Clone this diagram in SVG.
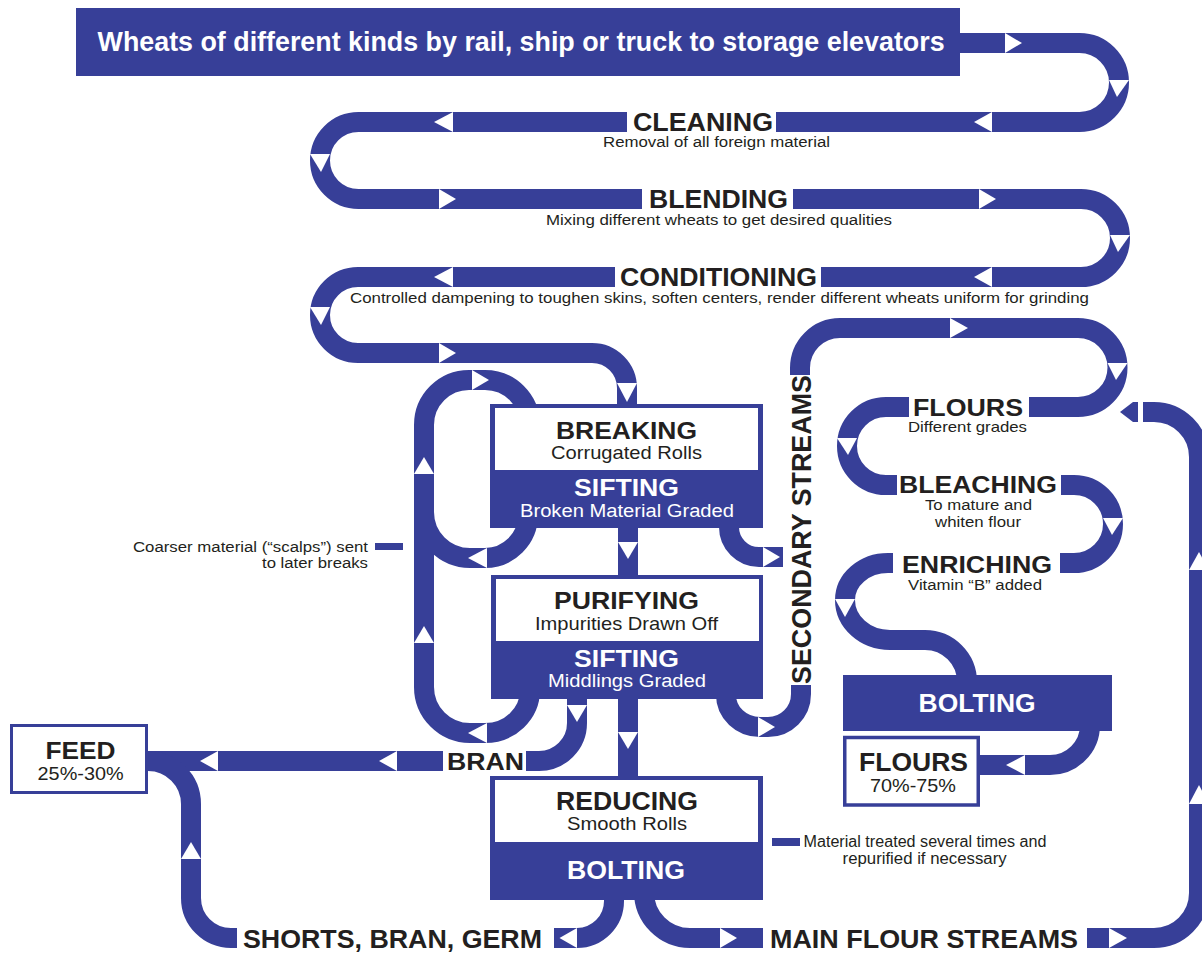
<svg xmlns="http://www.w3.org/2000/svg" width="1202" height="953" viewBox="0 0 1202 953">
<style>
.band{fill:none;stroke:#373f98;stroke-width:20}
.blue{fill:#373f98}
.aw{fill:#fff}
.t{font-family:"Liberation Sans",Arial,Helvetica,sans-serif;fill:#231f20}
.b{font-weight:bold}
.w{fill:#fff}
.box{fill:#fff;stroke:#373f98}
</style>
<rect width="1202" height="953" fill="#fff"/>
<g id="connectors">
<path class="band" d="M955,43 L1079.5,43 A39.5,39.5 0 0 1 1079.5,122 L776,122"/>
<path class="band" d="M627,122 L358.5,122 A38.5,38.5 0 0 0 358.5,199 L642,199"/>
<path class="band" d="M793,199 L1081,199 A39,39 0 0 1 1081,277 L821,277"/>
<path class="band" d="M615,277 L358,277 A38,38 0 0 0 358,353 L592,353 A35,35 0 0 1 627,388 L627,408"/>
<path class="band" d="M528,515 A43,43 0 0 1 485,558 L470,558 A46,46 0 0 1 424,512 L424,425 A45,45 0 0 1 469,380 L485,380 A45,45 0 0 1 530,425 L530,440"/>
<path class="band" d="M530,690 A45,43 0 0 1 485,733 L470,733 A46,46 0 0 1 424,687 L424,512"/>
<path class="band" d="M628,520 L628,580"/>
<path class="band" d="M628,690 L628,782"/>
<path class="band" d="M577,695 L577,723 A38,38 0 0 1 539,761 L526,761"/>
<path class="band" d="M443,761 L145,761"/>
<path class="band" d="M614,895 L614,901 A37,37 0 0 1 577,938 L554,938"/>
<path class="band" d="M237,938 L231,938 A40,40 0 0 1 191,898 L191,804 A43,43 0 0 0 148,761"/>
<path class="band" d="M644,890 L644,892 A46,46 0 0 0 690,938 L763,938"/>
<path class="band" d="M1087,938 L1154,938 A45,45 0 0 0 1199,893 L1199,457 A45,45 0 0 0 1154,412 L1143,412"/>
<path class="band" d="M729,520 L729,527 A30,30 0 0 0 759,557 L783,557"/>
<path class="band" d="M726,690 L726,695 A34,32 0 0 0 760,727 L768,727 A33,33 0 0 0 801,694 L801,685"/>
<path class="band" d="M800,375 L800,368 A40,40 0 0 1 840,328 L1078,328 A39.5,39.5 0 0 1 1078,407 L1029,407"/>
<path class="band" d="M909,407 L886,407 A39,39 0 0 0 886,485 L897,485"/>
<path class="band" d="M1061,485 L1074,485 A39,39 0 0 1 1074,563 L1060,563"/>
<path class="band" d="M893,563 L888,563 A43,37 0 0 0 845,600 A45,40 0 0 0 890,640 L925,640 A42,42 0 0 1 967,682"/>
<path class="band" d="M1090,720 L1090,725 A40,40 0 0 1 1050,765 L978,765"/>
<polygon class="blue" points="1120,412 1133,402 1138,402 1138,422 1133,422"/>
<g id="arrowheads">
<polygon class="aw" points="1005,33 1022,43 1005,53"/>
<polygon class="aw" points="1109,80 1117,97 1129,80"/>
<polygon class="aw" points="992,112 974,122 992,132"/>
<polygon class="aw" points="453,112 434,122 453,132"/>
<polygon class="aw" points="310,154 321,172 330,154"/>
<polygon class="aw" points="439,189 456,199 439,209"/>
<polygon class="aw" points="979,189 996,199 979,209"/>
<polygon class="aw" points="1110,235 1118,252 1130,235"/>
<polygon class="aw" points="992,267 974,277 992,287"/>
<polygon class="aw" points="453,267 434,277 453,287"/>
<polygon class="aw" points="310,307 321,325 330,307"/>
<polygon class="aw" points="439,343 456,353 439,363"/>
<polygon class="aw" points="617,383 627,402 637,383"/>
<polygon class="aw" points="472,370 489,380 472,390"/>
<polygon class="aw" points="414,474 424,457 434,474"/>
<polygon class="aw" points="487,548 468,558 487,568"/>
<polygon class="aw" points="414,643 424,626 434,643"/>
<polygon class="aw" points="487,723 468,733 487,743"/>
<polygon class="aw" points="618,542 628,559 638,542"/>
<polygon class="aw" points="618,732 628,749 638,732"/>
<polygon class="aw" points="567,705 577,722 587,705"/>
<polygon class="aw" points="397,751 379,761 397,771"/>
<polygon class="aw" points="218,751 200,761 218,771"/>
<polygon class="aw" points="577,928 559.5,938 577,948"/>
<polygon class="aw" points="181,859 191,842 201,859"/>
<polygon class="aw" points="720,928 737,938 720,948"/>
<polygon class="aw" points="1109,928 1127,938 1109,948"/>
<polygon class="aw" points="1189,570 1199,552 1209,570"/>
<polygon class="aw" points="1189,804 1199,785 1209,804"/>
<polygon class="aw" points="763,547 780,557 763,567"/>
<polygon class="aw" points="758,717 775,727 758,737"/>
<polygon class="aw" points="950,318 968,328 950,338"/>
<polygon class="aw" points="1107.5,363 1116,380 1127.5,363"/>
<polygon class="aw" points="837,438 848,455 857,438"/>
<polygon class="aw" points="1103,518 1112,535 1123,518"/>
<polygon class="aw" points="835,599 845,617 855,599"/>
<polygon class="aw" points="1025,755 1006,765 1025,775"/>
</g>
</g>
<g id="node-source">
<rect class="blue" x="76" y="8" width="884" height="68"/>
<text class="t b w" x="97.6" y="51" font-size="27" textLength="847" lengthAdjust="spacingAndGlyphs">Wheats of different kinds by rail, ship or truck to storage elevators</text>
</g>
<g id="node-cleaning">
<text class="t b" x="633" y="130.5" font-size="25.5" textLength="140" lengthAdjust="spacingAndGlyphs">CLEANING</text>
<text class="t" x="603" y="147" font-size="15.5" textLength="227" lengthAdjust="spacingAndGlyphs">Removal of all foreign material</text>
</g>
<g id="node-blending">
<text class="t b" x="649" y="207.5" font-size="25.5" textLength="139" lengthAdjust="spacingAndGlyphs">BLENDING</text>
<text class="t" x="546" y="225" font-size="15.5" textLength="346" lengthAdjust="spacingAndGlyphs">Mixing different wheats to get desired qualities</text>
</g>
<g id="node-conditioning">
<text class="t b" x="620" y="286" font-size="25.5" textLength="197" lengthAdjust="spacingAndGlyphs">CONDITIONING</text>
<text class="t" x="350" y="303" font-size="15.5" textLength="739" lengthAdjust="spacingAndGlyphs">Controlled dampening to toughen skins, soften centers, render different wheats uniform for grinding</text>
</g>
<g id="node-breaking">
<rect class="blue" x="490" y="404" width="273" height="124"/>
<rect fill="#fff" x="495" y="408" width="263" height="62"/>
<text class="t b" x="556" y="439" font-size="24.5" textLength="141" lengthAdjust="spacingAndGlyphs">BREAKING</text>
<text class="t" x="551" y="459" font-size="17.7" textLength="151" lengthAdjust="spacingAndGlyphs">Corrugated Rolls</text>
<text class="t b w" x="574" y="496" font-size="24.7" textLength="105" lengthAdjust="spacingAndGlyphs">SIFTING</text>
<text class="t w" x="520" y="517" font-size="18" textLength="214" lengthAdjust="spacingAndGlyphs">Broken Material Graded</text>
</g>
<g id="node-purifying">
<rect class="blue" x="491" y="575" width="272" height="124"/>
<rect fill="#fff" x="496" y="579" width="263" height="62"/>
<text class="t b" x="554" y="609" font-size="24.5" textLength="145" lengthAdjust="spacingAndGlyphs">PURIFYING</text>
<text class="t" x="535" y="630" font-size="17.7" textLength="183" lengthAdjust="spacingAndGlyphs">Impurities Drawn Off</text>
<text class="t b w" x="574" y="667" font-size="24.7" textLength="105" lengthAdjust="spacingAndGlyphs">SIFTING</text>
<text class="t w" x="548" y="687" font-size="18" textLength="158" lengthAdjust="spacingAndGlyphs">Middlings Graded</text>
</g>
<g id="node-reducing">
<rect class="blue" x="490" y="776" width="273" height="124"/>
<rect fill="#fff" x="495" y="780" width="263" height="62"/>
<text class="t b" x="556" y="810" font-size="25.5" textLength="142" lengthAdjust="spacingAndGlyphs">REDUCING</text>
<text class="t" x="567" y="830" font-size="17.7" textLength="120" lengthAdjust="spacingAndGlyphs">Smooth Rolls</text>
<text class="t b w" x="567" y="879" font-size="25.5" textLength="118" lengthAdjust="spacingAndGlyphs">BOLTING</text>
</g>
<g id="legend-scalps">
<text class="t" x="133" y="552" font-size="15.2" textLength="235" lengthAdjust="spacingAndGlyphs">Coarser material (“scalps”) sent</text>
<text class="t" x="262" y="567.5" font-size="15.2" textLength="106" lengthAdjust="spacingAndGlyphs">to later breaks</text>
<rect class="blue" x="375" y="543" width="28" height="7"/>
</g>
<g id="node-feed">
<rect class="box" stroke-width="3" x="11.5" y="725.5" width="135" height="67"/>
<text class="t b" x="45.5" y="759" font-size="24" textLength="70" lengthAdjust="spacingAndGlyphs">FEED</text>
<text class="t" x="37.6" y="780" font-size="19" textLength="86" lengthAdjust="spacingAndGlyphs">25%-30%</text>
</g>
<g id="node-bran">
<text class="t b" x="447" y="770" font-size="24" textLength="77" lengthAdjust="spacingAndGlyphs">BRAN</text>
</g>
<g id="node-shorts">
<text class="t b" x="243" y="948" font-size="26" textLength="299" lengthAdjust="spacingAndGlyphs">SHORTS, BRAN, GERM</text>
</g>
<g id="node-main-flour">
<text class="t b" x="770" y="947.7" font-size="26.5" textLength="308" lengthAdjust="spacingAndGlyphs">MAIN FLOUR STREAMS</text>
</g>
<g id="node-secondary">
<text class="t b" transform="translate(811,684) rotate(-90)" x="0" y="0" font-size="27" textLength="309" lengthAdjust="spacingAndGlyphs">SECONDARY STREAMS</text>
</g>
<g id="node-flours">
<text class="t b" x="913" y="415.5" font-size="24" textLength="110" lengthAdjust="spacingAndGlyphs">FLOURS</text>
<text class="t" x="908" y="431.5" font-size="14.5" textLength="119" lengthAdjust="spacingAndGlyphs">Different grades</text>
</g>
<g id="node-bleaching">
<text class="t b" x="899" y="493" font-size="24" textLength="158" lengthAdjust="spacingAndGlyphs">BLEACHING</text>
<text class="t" x="925" y="510" font-size="15.5" textLength="107" lengthAdjust="spacingAndGlyphs">To mature and</text>
<text class="t" x="935" y="527" font-size="15.5" textLength="86" lengthAdjust="spacingAndGlyphs">whiten flour</text>
</g>
<g id="node-enriching">
<text class="t b" x="902" y="573" font-size="24" textLength="150" lengthAdjust="spacingAndGlyphs">ENRICHING</text>
<text class="t" x="908" y="590" font-size="15.5" textLength="134" lengthAdjust="spacingAndGlyphs">Vitamin “B” added</text>
</g>
<g id="node-bolting">
<rect class="blue" x="843" y="675" width="269" height="56"/>
<text class="t b w" x="918.6" y="712" font-size="26" textLength="117" lengthAdjust="spacingAndGlyphs">BOLTING</text>
</g>
<g id="node-flours-final">
<rect class="box" stroke-width="3.5" x="844.75" y="737.5" width="133.5" height="67.5"/>
<text class="t b" x="859" y="771" font-size="26" textLength="109" lengthAdjust="spacingAndGlyphs">FLOURS</text>
<text class="t" x="870" y="792" font-size="18.6" textLength="86" lengthAdjust="spacingAndGlyphs">70%-75%</text>
</g>
<g id="legend-material">
<rect class="blue" x="772" y="838" width="28" height="8"/>
<text class="t" x="803.5" y="847" font-size="15.8" textLength="243" lengthAdjust="spacingAndGlyphs">Material treated several times and</text>
<text class="t" x="842.6" y="864" font-size="15.8" textLength="164" lengthAdjust="spacingAndGlyphs">repurified if necessary</text>
</g>
</svg>
